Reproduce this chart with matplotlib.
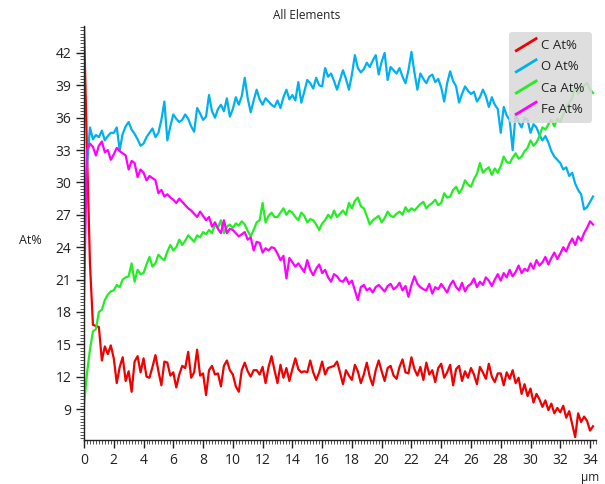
import numpy as np
import matplotlib
matplotlib.use("Agg")
import matplotlib.pyplot as plt
from matplotlib.legend_handler import HandlerBase
from matplotlib.lines import Line2D
from matplotlib.ticker import MultipleLocator

# line scan, one sample every 0.2 um
step_um = 0.2

c_at = [44.5, 33.0, 22.5, 16.8, 16.7, 16.6, 13.5, 14.8, 14.1, 14.9,
        13.7, 11.4, 12.9, 13.8, 11.6, 12.5, 10.6, 13.4, 13.9, 12.4,
        13.7, 12.0, 11.9, 12.9, 14.0, 12.5, 11.2, 13.4, 13.3, 12.1,
        12.4, 11.0, 12.2, 13.0, 12.8, 14.3, 11.9, 12.4, 14.5, 12.1,
        12.3, 10.3, 12.6, 13.0, 12.2, 12.3, 11.1, 13.0, 13.5, 12.6,
        12.2, 11.1, 10.6, 12.6, 13.3, 12.5, 12.0, 12.6, 12.6, 12.2,
        12.9, 11.4, 12.9, 13.9, 12.6, 11.4, 13.1, 11.9, 12.8, 11.6,
        12.7, 13.7, 12.7, 12.4, 12.5, 12.4, 13.5, 12.4, 11.7, 12.4,
        13.4, 12.2, 12.8, 12.9, 13.0, 13.4, 12.4, 11.3, 12.6, 12.1,
        11.7, 13.1, 12.5, 11.4, 12.2, 13.3, 12.0, 11.2, 12.6, 13.5,
        12.5, 11.6, 12.8, 13.0, 12.1, 11.8, 12.9, 13.6, 12.4, 12.3,
        13.8, 12.7, 12.1, 12.9, 11.7, 13.3, 12.2, 12.6, 11.5, 12.8,
        13.2, 11.9, 12.4, 13.1, 11.2, 12.7, 13.0, 11.6, 12.5, 11.9,
        12.8, 12.2, 11.3, 12.9, 12.4, 11.8, 13.2, 12.0, 11.5, 12.3,
        12.3, 11.2, 12.4, 11.8, 12.6, 11.4, 11.9, 10.4, 11.3, 10.2,
        10.9, 9.6, 10.4, 9.9, 9.2, 9.8, 8.9, 9.5, 8.6, 9.1,
        8.7, 9.3, 8.2, 8.8, 7.6, 6.4, 8.6, 7.8, 8.3, 7.9,
        7.0, 7.4]

o_at = [27.5, 31.5, 35.1, 34.0, 34.4, 34.2, 34.8, 33.9, 34.3, 34.6,
        34.6, 35.1, 33.0, 34.5, 35.2, 35.6, 34.9, 34.5, 34.0, 33.4,
        33.6, 34.2, 34.6, 35.0, 34.2, 34.6, 35.8, 37.5, 33.9, 35.2,
        36.3, 35.9, 35.6, 35.8, 36.3, 35.9, 35.2, 34.7, 36.9, 36.4,
        35.8, 36.1, 38.1, 36.6, 36.0, 36.8, 37.2, 36.6, 37.8, 36.1,
        36.8, 37.9, 37.2, 38.0, 39.7, 37.8, 36.5, 37.6, 38.6, 37.7,
        37.2, 37.8, 37.5, 37.2, 37.0, 37.6, 36.9, 37.9, 38.6, 37.7,
        38.1, 37.6, 39.3, 37.4, 38.4, 39.5, 39.2, 38.7, 39.7, 39.0,
        38.9, 40.6, 39.8, 40.1, 39.4, 38.6, 39.5, 40.4, 39.6, 38.6,
        40.0, 41.8, 40.6, 40.2, 40.5, 41.1, 40.7, 41.3, 41.8, 40.0,
        41.2, 42.0, 39.5, 40.7, 40.4, 40.1, 40.6, 39.8, 39.2, 40.4,
        42.1, 40.2, 38.6, 40.1, 39.6, 39.2, 39.8, 40.0, 39.3, 39.6,
        38.8, 37.5, 39.2, 40.3, 39.4, 38.9, 37.4, 38.2, 38.9, 38.5,
        38.2, 38.4, 37.5, 37.9, 38.6, 38.0, 37.0, 37.9, 37.2, 36.8,
        34.6, 37.0, 36.2, 35.8, 33.0, 36.4, 35.6, 35.1, 36.0, 35.8,
        34.6, 35.4, 35.1, 34.4, 33.9, 34.3, 33.7, 32.9, 32.4, 32.1,
        31.8, 31.2, 31.4, 30.6, 30.9, 29.9, 29.3, 28.9, 27.5, 27.7,
        28.2, 28.7]

ca_at = [9.4, 12.3, 14.5, 16.2, 16.4, 18.0, 18.2, 19.1, 19.6, 19.9,
         20.0, 20.5, 20.3, 21.0, 21.2, 21.3, 22.5, 20.8, 21.9, 21.5,
         21.6, 22.4, 23.1, 22.2, 22.5, 23.3, 23.0, 22.8, 23.6, 24.2,
         23.7, 24.0, 24.7, 24.2, 24.6, 25.1, 24.8, 24.5, 25.1, 24.9,
         25.4, 25.2, 25.6, 25.3, 26.1, 25.8, 26.5, 25.3, 25.9, 26.1,
         25.8, 26.2, 26.0, 26.4, 26.1, 25.5, 25.0, 25.6, 26.3, 26.5,
         28.1, 26.3, 26.9, 27.2, 26.8, 26.8, 27.2, 27.6, 27.0, 27.4,
         27.2, 26.8, 26.5, 27.2, 26.9, 26.3, 26.6, 26.5, 26.1, 25.6,
         26.2, 26.5, 27.0, 26.7, 27.4, 26.8, 27.1, 27.4, 27.0, 28.1,
         27.6, 28.3, 28.6, 27.8, 27.6, 26.9, 26.1, 26.5, 26.7, 26.9,
         26.3, 26.7, 27.3, 26.9, 26.8, 27.1, 27.3, 27.0, 27.7, 27.3,
         27.6, 27.4, 27.7, 28.0, 28.2, 27.6, 27.9, 28.1, 28.4, 27.9,
         28.1, 29.0, 28.6, 28.7, 29.3, 29.6, 29.0, 29.4, 30.2, 29.8,
         29.6, 30.3, 30.8, 31.8, 30.9, 31.2, 31.4, 30.7, 31.3, 30.9,
         31.5, 32.4, 31.9, 31.8, 32.3, 32.7, 32.2, 32.4, 32.9, 33.2,
         33.9, 33.4, 33.7, 34.3, 35.1, 34.9, 35.4, 35.8, 35.2, 35.9,
         35.6, 36.3, 37.0, 37.4, 37.8, 38.9, 38.2, 38.6, 39.0, 39.2,
         38.6, 38.3]

fe_at = [19.1, 33.0, 33.6, 33.3, 32.5, 33.4, 33.8, 32.8, 33.0, 32.1,
         32.6, 33.2, 32.9, 32.7, 32.5, 31.2, 32.0, 31.8, 30.5, 31.2,
         30.9, 30.2, 30.6, 30.4, 30.2, 29.0, 29.3, 28.7, 28.9, 28.6,
         28.4, 28.1, 28.5, 28.2, 27.9, 27.6, 27.4, 27.1, 26.8, 27.3,
         26.9, 26.5, 26.8, 25.9, 26.3, 25.7, 25.3, 26.5, 25.3, 25.7,
         25.6, 25.3, 25.0, 25.2, 25.4, 24.7, 24.9, 23.7, 24.5, 24.4,
         23.5, 23.9, 23.7, 24.0, 23.9, 23.4, 22.8, 23.2, 21.1, 23.0,
         22.6, 22.2, 22.5, 22.1, 21.7, 22.8, 21.9, 21.4, 22.0, 22.4,
         21.6, 21.9, 21.2, 20.8, 21.5, 21.3, 20.9, 20.8, 21.2, 20.6,
         20.9, 20.0, 19.1, 20.3, 20.5, 20.0, 20.2, 19.8, 20.3, 20.5,
         20.2, 19.9, 20.4, 20.6, 20.1, 20.3, 20.7, 20.0, 20.4, 19.4,
         20.5, 21.3, 20.6, 20.3, 20.1, 20.0, 20.6, 19.7, 20.3, 20.1,
         20.6, 20.2, 19.8, 20.5, 20.9, 20.3, 20.0, 20.7, 19.9, 20.4,
         20.6, 21.1, 20.3, 20.8, 20.5, 21.2, 20.9, 20.4, 21.0, 21.5,
         20.9, 21.6, 21.2, 21.9, 21.3, 21.7, 22.3, 21.6, 22.0, 21.8,
         22.5, 22.0, 22.8, 22.3, 22.6, 23.1, 22.4, 23.0, 23.5, 22.9,
         23.4, 24.0, 23.6, 24.3, 24.8, 24.2, 25.0, 24.6, 25.3, 25.8,
         26.4, 26.1]

labels = ["C At%", "O At%", "Ca At%", "Fe At%"]
colors = ["#f00000", "#00b0f0", "#22ee22", "#ff00ff"]

distance = np.arange(len(c_at)) * step_um


class SlantHandler(HandlerBase):
    """legend key drawn as a short rising stroke"""
    def create_artists(self, legend, orig_handle, xdescent, ydescent,
                       width, height, fontsize, trans):
        ln = Line2D([-xdescent, -xdescent + width],
                    [-ydescent - 1, -ydescent + height + 1],
                    color=orig_handle.get_color(), lw=2)
        ln.set_transform(trans)
        return [ln]


plt.rcParams['font.family'] = ['Open Sans', 'DejaVu Sans']

fig = plt.figure(figsize=(6.05, 4.84), dpi=100)
ax = fig.add_axes([84 / 605, 44 / 484, 512 / 605, 414 / 484])

lines = []
for vals, lab, col in zip([c_at, o_at, ca_at, fe_at], labels, colors):
    ln, = ax.plot(distance, vals, color=col, lw=1.6, label=lab)
    lines.append(ln)

ax.set_xlim(0, 34.4)
ax.set_ylim(6.13, 44.5)
ax.xaxis.set_major_locator(MultipleLocator(2))
ax.xaxis.set_minor_locator(MultipleLocator(0.2))
ax.yaxis.set_major_locator(MultipleLocator(3))
ax.yaxis.set_minor_locator(MultipleLocator(0.3))
ax.set_yticks(np.arange(9, 43, 3))

for side in ["top", "right"]:
    ax.spines[side].set_visible(False)
for side in ["left", "bottom"]:
    ax.spines[side].set_color("#222222")
    ax.spines[side].set_linewidth(1.0)

ax.tick_params(which="major", direction="out", length=6, width=1,
               color="#222222", labelsize=10, labelcolor="#222222", pad=3)
ax.tick_params(which="minor", direction="out", length=3, width=0.7,
               color="#555555")

fig.text(0.506, 0.969, "All Elements", ha="center", va="center",
         fontsize=8.5, color="#222222")
fig.text(30 / 605, 1 - 240 / 484, "At%", ha="center", va="center",
         fontsize=9, color="#222222")
fig.text(590 / 605, 1 - 477 / 484, "µm", ha="center", va="center",
         fontsize=8.5, color="#222222")

leg = ax.legend(handles=lines, loc="upper right",
                bbox_to_anchor=(592 / 605, 1 - 32 / 484),
                bbox_transform=fig.transFigure,
                handler_map={Line2D: SlantHandler()},
                handlelength=1.5, handletextpad=0.4, labelspacing=0.62,
                borderpad=0.55, borderaxespad=0, fontsize=9.5, fancybox=True,
                facecolor="#d9d9d9", edgecolor="none", framealpha=0.85)
for t in leg.get_texts():
    t.set_color("#222222")

fig.savefig("out.png", dpi=100)
